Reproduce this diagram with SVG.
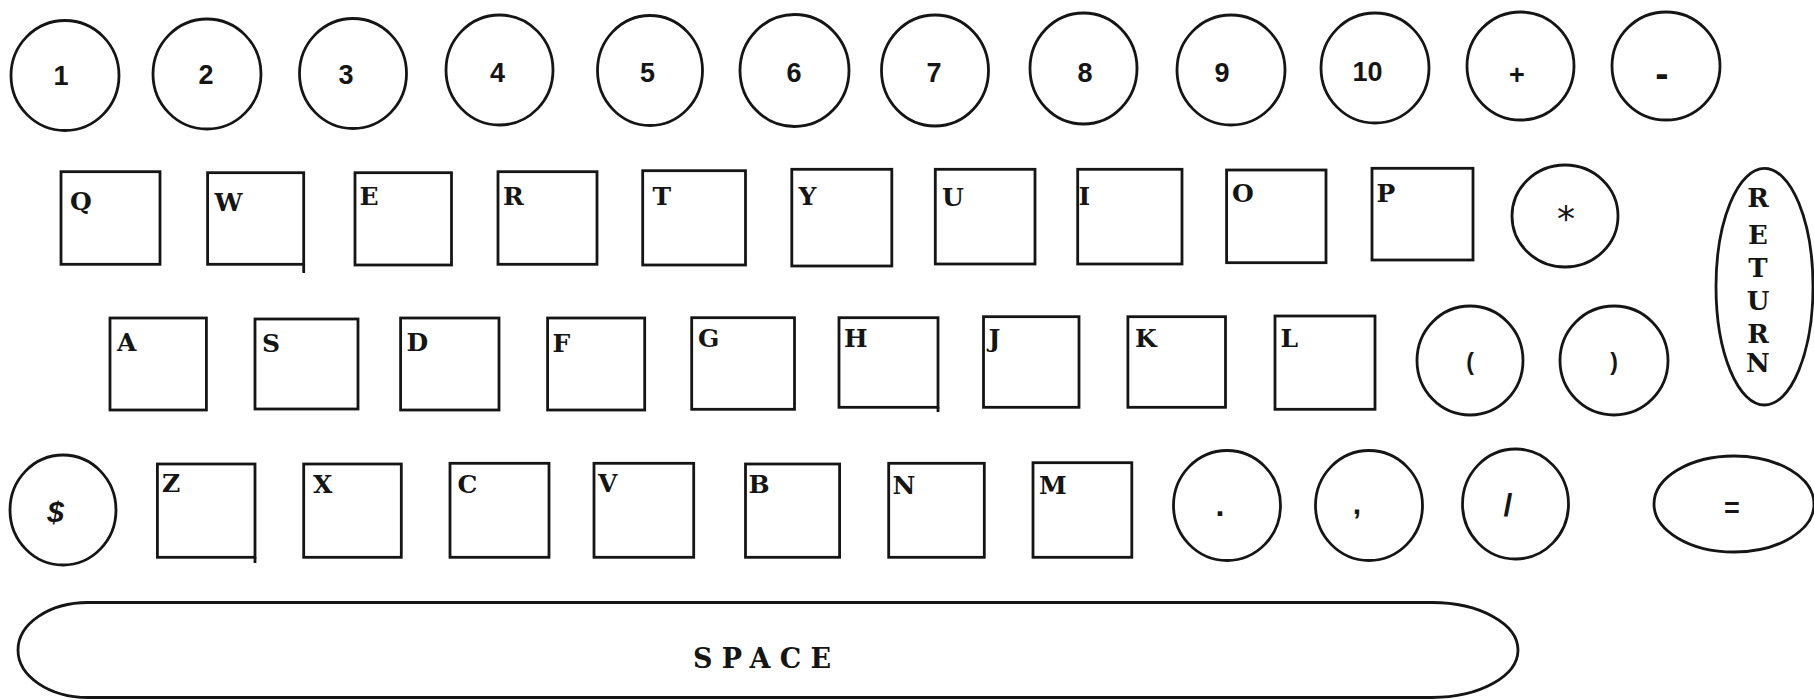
<svg xmlns="http://www.w3.org/2000/svg" width="1814" height="700" viewBox="0 0 1814 700">
<style>
.k{fill:none;stroke:#151515;stroke-width:2.8}
.d{font-family:"Liberation Sans",Arial,sans-serif;font-weight:bold;font-size:27px;fill:#151515;text-anchor:middle}
.l{font-family:"DejaVu Serif","Liberation Serif",serif;font-weight:bold;font-size:25px;fill:#151515}
.r{font-family:"DejaVu Serif","Liberation Serif",serif;font-weight:bold;font-size:26px;fill:#151515;text-anchor:middle}
</style>
<rect width="1814" height="700" fill="#fff"/>
<g id="row1">
<g id="k1"><ellipse class="k" cx="65" cy="75.5" rx="54" ry="55"/><text class="d" x="61" y="85">1</text></g>
<g id="k2"><ellipse class="k" cx="207" cy="74" rx="54" ry="55"/><text class="d" x="206" y="83.5">2</text></g>
<g id="k3"><ellipse class="k" cx="353" cy="73.5" rx="53.5" ry="55"/><text class="d" x="346" y="83.5">3</text></g>
<g id="k4"><ellipse class="k" cx="499.5" cy="70" rx="53.5" ry="55"/><text class="d" x="497.5" y="82">4</text></g>
<g id="k5"><ellipse class="k" cx="650" cy="70.5" rx="52.5" ry="55"/><text class="d" x="647.5" y="82">5</text></g>
<g id="k6"><ellipse class="k" cx="794.5" cy="70.5" rx="54.5" ry="56"/><text class="d" x="794" y="82">6</text></g>
<g id="k7"><ellipse class="k" cx="935" cy="70.5" rx="53.5" ry="55.5"/><text class="d" x="934" y="82">7</text></g>
<g id="k8"><ellipse class="k" cx="1083.5" cy="68.5" rx="53.5" ry="55.5"/><text class="d" x="1085" y="82">8</text></g>
<g id="k9"><ellipse class="k" cx="1231" cy="70" rx="54" ry="55"/><text class="d" x="1222" y="81.5">9</text></g>
<g id="k10"><ellipse class="k" cx="1375" cy="68" rx="54" ry="55"/><text class="d" x="1367.5" y="80.5">10</text></g>
<g id="kplus"><ellipse class="k" cx="1520.5" cy="66" rx="53.5" ry="54"/><text class="d" x="1517" y="84">+</text></g>
<g id="kminus"><ellipse class="k" cx="1666" cy="66" rx="54" ry="54"/><text class="d" x="1662" y="87" style="font-size:40px">-</text></g>
</g>
<g id="row2">
<g id="kQ"><rect class="k" x="61" y="171.7" width="99" height="92.6"/><text class="l" x="70" y="210">Q</text></g>
<g id="kW"><rect class="k" x="207.6" y="172.7" width="96.1" height="91.6"/><line class="k" x1="303.7" y1="264" x2="303.7" y2="273"/><text class="l" x="214.5" y="211">W</text></g>
<g id="kE"><rect class="k" x="355" y="172.7" width="96.5" height="92.3"/><text class="l" x="359.5" y="204.5">E</text></g>
<g id="kR"><rect class="k" x="498" y="171.7" width="99" height="92.6"/><text class="l" x="503" y="205">R</text></g>
<g id="kT"><rect class="k" x="642.7" y="170.7" width="102.8" height="94.3"/><text class="l" x="652.5" y="205">T</text></g>
<g id="kY"><rect class="k" x="791.8" y="169.3" width="100" height="96.7"/><text class="l" x="798.5" y="205">Y</text></g>
<g id="kU"><rect class="k" x="935.3" y="169.3" width="99.7" height="94.7"/><text class="l" x="942" y="206">U</text></g>
<g id="kI"><rect class="k" x="1077.7" y="169.3" width="104.3" height="94.7"/><text class="l" x="1078.5" y="205">I</text></g>
<g id="kO"><rect class="k" x="1226.6" y="170" width="99.4" height="92.7"/><text class="l" x="1232" y="202">O</text></g>
<g id="kP"><rect class="k" x="1372" y="168.3" width="101" height="91.7"/><text class="l" x="1376.5" y="202">P</text></g>
<g id="kstar"><ellipse class="k" cx="1565" cy="216" rx="53" ry="51"/><text x="1566" y="231" style="font-family:'DejaVu Sans',sans-serif;font-size:36px;fill:#151515;text-anchor:middle">*</text></g>
</g>
<g id="kreturn"><ellipse class="k" cx="1764.5" cy="286.7" rx="48.5" ry="118.3"/>
<text class="r" x="1758" y="207">R</text><text class="r" x="1758" y="244">E</text><text class="r" x="1758" y="277">T</text><text class="r" x="1758" y="310">U</text><text class="r" x="1758" y="343">R</text><text class="r" x="1758" y="372">N</text></g>
<g id="row3">
<g id="kA"><rect class="k" x="110" y="318" width="96.4" height="92"/><text class="l" x="117" y="350.5">A</text></g>
<g id="kS"><rect class="k" x="255" y="319" width="103" height="90"/><text class="l" x="262" y="351.5">S</text></g>
<g id="kD"><rect class="k" x="400.6" y="318" width="98.4" height="92"/><text class="l" x="406.5" y="350.5">D</text></g>
<g id="kF"><rect class="k" x="547.6" y="318" width="97.1" height="92"/><text class="l" x="552.5" y="351.5">F</text></g>
<g id="kG"><rect class="k" x="691.7" y="317.7" width="102.8" height="91.6"/><text class="l" x="698" y="346.5">G</text></g>
<g id="kH"><rect class="k" x="839" y="317.7" width="99" height="89.6"/><line class="k" x1="938" y1="407" x2="938" y2="412"/><text class="l" x="844" y="346.5">H</text></g>
<g id="kJ"><rect class="k" x="983.5" y="316.7" width="95.5" height="90.6"/><text class="l" x="988.5" y="346.5">J</text></g>
<g id="kK"><rect class="k" x="1127.9" y="316.7" width="97.6" height="90.6"/><text class="l" x="1135" y="346.5">K</text></g>
<g id="kL"><rect class="k" x="1275" y="316" width="100" height="93.3"/><text class="l" x="1280.5" y="347">L</text></g>
<g id="klparen"><ellipse class="k" cx="1470" cy="360.5" rx="53" ry="54.5"/><text class="d" x="1470" y="370" style="font-size:23px">(</text></g>
<g id="krparen"><ellipse class="k" cx="1614" cy="360.5" rx="54" ry="54.5"/><text class="d" x="1614" y="370" style="font-size:23px">)</text></g>
</g>
<g id="row4">
<g id="kdollar"><ellipse class="k" cx="63" cy="510" rx="53" ry="55"/><text class="d" x="55.5" y="522" style="font-size:30px;font-style:italic">$</text></g>
<g id="kZ"><rect class="k" x="157.4" y="464" width="97.6" height="93.3"/><line class="k" x1="255" y1="557" x2="255" y2="563"/><text class="l" x="162" y="491.7">Z</text></g>
<g id="kX"><rect class="k" x="303.7" y="464" width="97.6" height="93.3"/><text class="l" x="313" y="492.5">X</text></g>
<g id="kC"><rect class="k" x="450" y="463.3" width="99" height="94"/><text class="l" x="457.5" y="492.5">C</text></g>
<g id="kV"><rect class="k" x="594" y="463.3" width="99.7" height="94"/><text class="l" x="598" y="491.7">V</text></g>
<g id="kB"><rect class="k" x="745.5" y="464" width="94.1" height="93.3"/><text class="l" x="748.5" y="493">B</text></g>
<g id="kN"><rect class="k" x="888.7" y="463.3" width="95.6" height="94"/><text class="l" x="892.5" y="494">N</text></g>
<g id="kM"><rect class="k" x="1033" y="462.7" width="98.8" height="94.6"/><text class="l" x="1039" y="494">M</text></g>
<g id="kdot"><ellipse class="k" cx="1227" cy="505.5" rx="53.5" ry="55"/><text class="d" x="1220" y="516" style="font-size:32px">.</text></g>
<g id="kcomma"><ellipse class="k" cx="1369" cy="505.5" rx="53.5" ry="55"/><text class="d" x="1357" y="514" style="font-size:30px">,</text></g>
<g id="kslash"><ellipse class="k" cx="1515.5" cy="504" rx="53" ry="55"/><text class="d" x="1508" y="516" style="font-size:32px">/</text></g>
<g id="kequals"><ellipse class="k" cx="1734" cy="504" rx="80" ry="48"/><text class="d" x="1732" y="517" style="font-size:27px">=</text></g>
</g>
<g id="kspace"><path class="k" d="M88,602.5 H1432 A86,47.5 0 0 1 1432,697.5 H88 A70,47.5 0 0 1 88,602.5 Z"/><text x="693" y="668" textLength="138" lengthAdjust="spacing" style="font-family:'DejaVu Serif','Liberation Serif',serif;font-weight:bold;font-size:27px;fill:#151515">SPACE</text></g>
</svg>
